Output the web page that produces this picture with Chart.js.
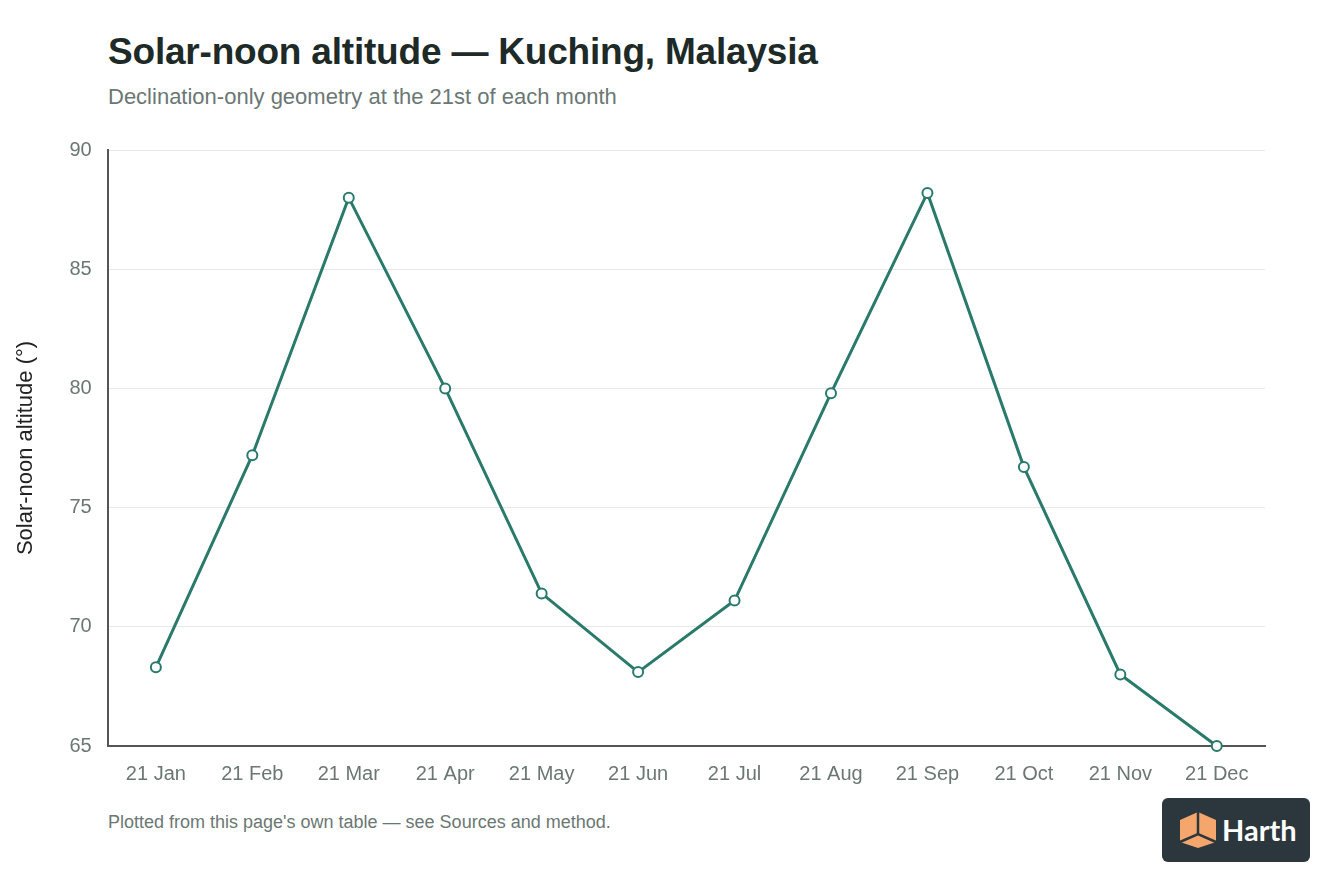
<!DOCTYPE html>
<html>
<head>
<meta charset="utf-8">
<script src="https://cdn.jsdelivr.net/npm/chart.js@4"></script>
<style>
  html, body { margin: 0; padding: 0; background: #fff; }
  body { width: 1344px; height: 896px; position: relative; overflow: hidden;
         font-family: "Liberation Sans", Arial, Helvetica, sans-serif; }
  #title { position: absolute; left: 108px; top: 31px; font-size: 37px; font-weight: bold;
           color: #1d2a27; letter-spacing: -0.2px; }
  #subtitle { position: absolute; left: 108px; top: 84px; font-size: 22px; color: #6b7774; }
  #wrap { position: absolute; left: 0; top: 122px; width: 1272px; height: 680px; }
  #footer { position: absolute; left: 108px; top: 812px; font-size: 18px; color: #6b7774; }
  #logo { position: absolute; left: 1162px; top: 798px; width: 148px; height: 64px;
          background: #2b363d; border-radius: 6px; }
  #logo span { position: absolute; left: 60px; top: 14px; font-size: 29px; font-weight: bold;
               color: #fff; font-family: "Lato", "Liberation Sans", sans-serif; }
</style>
</head>
<body>
<div id="title">Solar-noon altitude — Kuching, Malaysia</div>
<div id="subtitle">Declination-only geometry at the 21st of each month</div>
<div id="wrap"><canvas id="chart"></canvas></div>
<div id="footer">Plotted from this page's own table — see Sources and method.</div>
<div id="logo">
  <svg width="44" height="40" viewBox="0 0 44 40" style="position:absolute;left:14px;top:12px">
    <polygon points="22,2 40,10 40,32 22,38 4,32 4,10" fill="#f4a66d"/>
    <polyline points="22,2 22,24" stroke="#2b363d" stroke-width="2.5" fill="none"/>
    <polyline points="4,32 22,24 40,32" stroke="#2b363d" stroke-width="2.5" fill="none"/>
  </svg>
  <span>Harth</span>
</div>
<script>
const months = ['21 Jan', '21 Feb', '21 Mar', '21 Apr', '21 May', '21 Jun',
                '21 Jul', '21 Aug', '21 Sep', '21 Oct', '21 Nov', '21 Dec'];
const altitude = [68.3, 77.2, 88.0, 80.0, 71.4, 68.1, 71.1, 79.8, 88.2, 76.7, 68.0, 65.0];
const yTicks = [65, 70, 75, 80, 85, 90];

const tickColor = '#6b7774';
const teal = '#2a7a6c';

new Chart(document.getElementById('chart'), {
  type: 'line',
  data: {
    labels: months,
    datasets: [{
      label: 'Solar-noon altitude',
      data: altitude,
      borderColor: teal,
      backgroundColor: '#ffffff',
      borderWidth: 3,
      pointRadius: 5,
      pointBorderWidth: 2,
      pointBackgroundColor: '#ffffff',
      pointBorderColor: teal,
      tension: 0,
      clip: false
    }]
  },
  options: {
    responsive: true,
    maintainAspectRatio: false,
    animation: false,
    layout: { padding: { top: 3, left: 13, right: 0, bottom: 0 } },
    plugins: {
      legend: { display: false },
      tooltip: { enabled: false }
    },
    scales: {
      x: {
        offset: true,
        grid: { display: false, drawTicks: false },
        border: { display: true, color: '#555', width: 2 },
        ticks: { color: tickColor, padding: 16, font: { size: 20, family: 'Liberation Sans' } }
      },
      y: {
        min: yTicks[0],
        max: yTicks[yTicks.length - 1],
        afterBuildTicks: (axis) => { axis.ticks = yTicks.map(v => ({ value: v })); },
        grid: { color: '#e6e9e8', lineWidth: 1, drawTicks: false },
        border: { display: true, color: '#555', width: 2 },
        ticks: { color: tickColor, padding: 16, font: { size: 20, family: 'Liberation Sans' } },
        title: {
          display: true,
          text: 'Solar-noon altitude (°)',
          color: '#222',
          padding: { top: 0, bottom: 14 },
          font: { size: 22, family: 'Liberation Sans' }
        }
      }
    }
  }
});
</script>
</body>
</html>
